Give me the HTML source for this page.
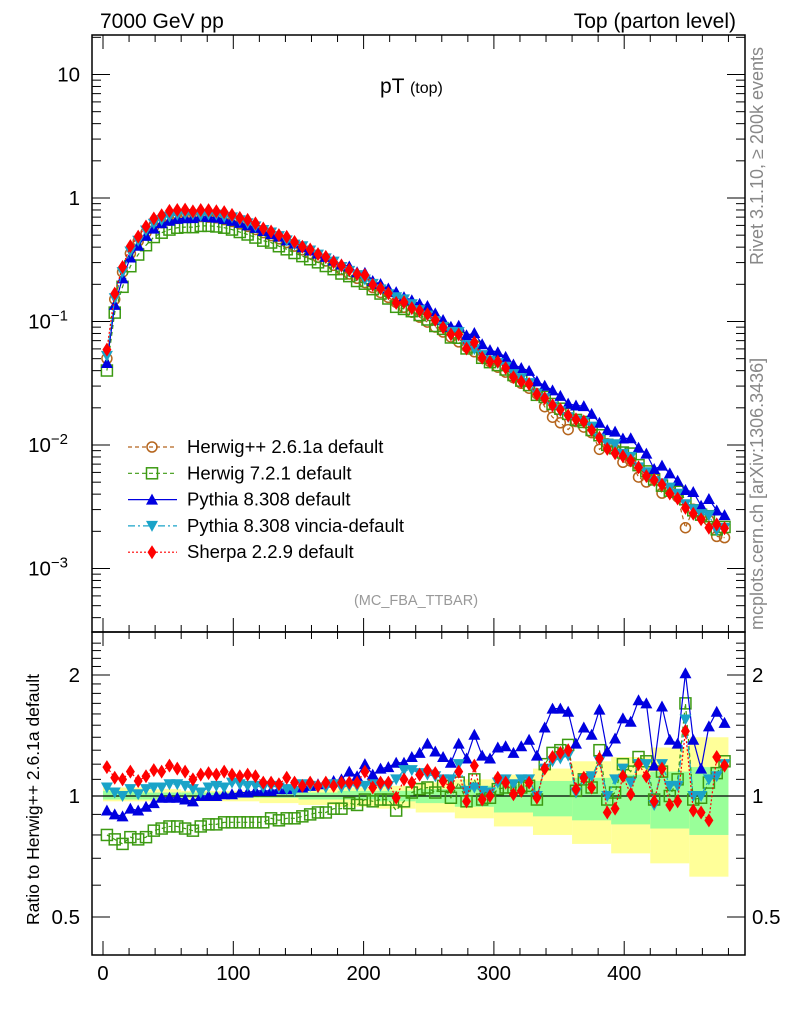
<!DOCTYPE html>
<html><head><meta charset="utf-8"><style>
html,body{margin:0;padding:0;background:#fff;}
svg{display:block;font-family:"Liberation Sans",sans-serif;}
</style></head><body>
<svg id="c" width="786" height="1024" viewBox="0 0 786 1024" xmlns="http://www.w3.org/2000/svg">
<text x="100" y="28" font-size="21">7000 GeV pp</text>
<text x="736" y="28" font-size="21" text-anchor="end">Top (parton level)</text>
<text x="380" y="93" font-size="21">pT <tspan font-size="16">(top)</tspan></text>
<text x="416" y="605" font-size="14.5" fill="#999" text-anchor="middle">(MC_FBA_TTBAR)</text>
<text transform="translate(763,265) rotate(-90)" font-size="18" fill="#888">Rivet 3.1.10, ≥ 200k events</text>
<text transform="translate(763,630) rotate(-90)" font-size="18" fill="#888">mcplots.cern.ch [arXiv:1306.3436]</text>
<text transform="translate(39,925) rotate(-90)" font-size="17.5">Ratio to Herwig++ 2.6.1a default</text>
<g id="bands"></g><g id="marks"></g><g id="axes"></g><g id="legend"></g>
</svg>
<script>
const binWidth = 6;
const nBins = 80;
const herwigLog = [-1.30,-0.82,-0.60,-0.45,-0.35,-0.28,-0.23,-0.20,-0.18,-0.165,-0.155,-0.15,-0.15,-0.155,-0.16,-0.175,-0.19,-0.21,-0.23,-0.255,-0.28,-0.305,-0.33,-0.36,-0.39,-0.42,-0.45,-0.48,-0.51,-0.545,-0.58,-0.615,-0.65,-0.685,-0.725,-0.765,-0.805,-0.845,-0.885,-0.925,-0.965,-1.005,-1.045,-1.085,-1.125,-1.165,-1.205,-1.245,-1.285,-1.325,-1.37,-1.41,-1.455,-1.50,-1.54,-1.585,-1.69,-1.775,-1.82,-1.875,-1.81,-1.855,-1.90,-2.035,-1.99,-2.035,-2.14,-2.13,-2.26,-2.30,-2.27,-2.39,-2.37,-2.42,-2.67,-2.52,-2.56,-2.61,-2.74,-2.75];
const ratioH7 = [0.80,0.78,0.76,0.79,0.78,0.79,0.82,0.83,0.84,0.84,0.83,0.82,0.84,0.85,0.85,0.86,0.86,0.86,0.86,0.86,0.86,0.88,0.87,0.88,0.88,0.89,0.90,0.91,0.91,0.93,0.93,0.96,0.95,0.98,0.97,0.98,0.98,0.92,0.97,1.02,1.04,1.05,1.02,1.06,0.99,1.08,0.97,1.10,0.98,0.99,1.04,1.05,1.05,1.05,1.06,0.98,1.20,1.28,1.30,1.34,1.03,1.10,1.05,1.30,0.98,1.02,1.20,1.15,1.25,1.22,0.98,1.15,1.00,1.10,1.70,0.98,0.99,1.08,1.14,1.22];
const ratioPy = [0.92,0.90,0.89,0.93,0.92,0.94,0.96,0.99,0.99,0.99,0.98,0.97,1.0,1.0,1.0,1.01,1.01,1.02,1.02,1.03,1.03,1.03,1.04,1.04,1.05,1.05,1.06,1.07,1.08,1.09,1.10,1.15,1.12,1.20,1.13,1.17,1.18,1.21,1.21,1.25,1.28,1.35,1.29,1.25,1.21,1.35,1.24,1.42,1.26,1.24,1.32,1.33,1.28,1.33,1.38,1.26,1.48,1.65,1.65,1.62,1.35,1.48,1.42,1.64,1.29,1.39,1.56,1.53,1.73,1.70,1.19,1.67,1.38,1.35,2.02,1.38,1.17,1.49,1.62,1.52];
const ratioVin = [1.05,1.02,1.0,1.04,1.01,1.04,1.05,1.05,1.07,1.07,1.06,1.04,1.02,1.05,1.06,1.05,1.08,1.07,1.06,1.06,1.05,1.06,1.05,1.04,1.03,1.07,1.06,1.05,1.05,1.07,1.05,1.06,1.06,1.06,1.07,1.06,1.06,1.10,1.16,1.16,1.14,1.13,1.12,1.10,1.10,1.20,1.03,1.05,1.03,1.02,1.08,1.10,1.07,1.10,1.10,1.00,1.17,1.22,1.24,1.26,1.02,1.10,1.12,1.22,1.00,1.10,1.17,1.08,1.20,1.20,0.95,1.20,1.06,1.06,1.55,1.00,1.00,1.10,1.12,1.20];
const ratioSh = [1.18,1.11,1.10,1.15,1.09,1.12,1.16,1.15,1.19,1.17,1.15,1.10,1.13,1.14,1.13,1.15,1.13,1.12,1.13,1.12,1.08,1.08,1.07,1.11,1.08,1.06,1.08,1.06,1.08,1.06,1.08,1.08,1.08,1.15,1.05,1.08,1.08,0.99,1.10,1.08,1.13,1.16,1.14,1.09,1.05,1.15,0.97,1.19,0.98,1.00,1.11,1.08,1.01,1.03,1.08,0.99,1.17,1.25,1.28,1.30,1.04,1.11,1.05,1.24,0.91,0.93,1.12,1.01,1.20,1.12,0.97,1.17,0.95,0.97,1.45,0.92,0.91,0.87,1.25,1.19];
const bandGreenHi = [1.03,1.02,1.02,1.02,1.02,1.02,1.03,1.03,1.04,1.06,1.07,1.09,1.11,1.13,1.15,1.18];
const bandGreenLo = [0.98,0.98,0.99,0.99,0.99,0.98,0.98,0.97,0.96,0.94,0.91,0.89,0.87,0.85,0.83,0.80];
const bandYellowHi = [1.05,1.04,1.03,1.03,1.03,1.04,1.05,1.06,1.08,1.10,1.13,1.17,1.22,1.25,1.32,1.40];
const bandYellowLo = [0.97,0.97,0.97,0.97,0.96,0.95,0.94,0.93,0.91,0.88,0.84,0.80,0.76,0.72,0.68,0.63];
const xTicks = [0,100,200,300,400];
const ratioTicks = [2,1,0.5];

const L=92,R=745,T=35,MB=632,RB=955;
const sx=v=>103+1.303*v;
const sy=lv=>198-123.5*lv;
const ry=r=>796-402*Math.log10(r);
const NS='http://www.w3.org/2000/svg';
function mk(tag,attrs,parent){const e=document.createElementNS(NS,tag);for(const k in attrs)e.setAttribute(k,attrs[k]);parent.appendChild(e);return e;}
const gB=document.getElementById('bands'),gM=document.getElementById('marks'),gA=document.getElementById('axes'),gL=document.getElementById('legend');

for(let g=0;g<bandGreenHi.length;g++){
  const x0=sx(g*30),x1=sx(g*30+30);
  const y=mk('rect',{x:x0,y:ry(bandYellowHi[g]),width:x1-x0,height:ry(bandYellowLo[g])-ry(bandYellowHi[g]),fill:'#ffff99'},gB);
  
  
  const gr=mk('rect',{x:x0,y:ry(bandGreenHi[g]),width:x1-x0,height:ry(bandGreenLo[g])-ry(bandGreenHi[g]),fill:'#99ff99'},gB);
  
  
}
mk('line',{x1:L,x2:R,y1:ry(1),y2:ry(1),stroke:'#000','stroke-width':1.2},gB);

const series=[
 {name:'herwig-pp',ratio:null,color:'#b5651d',dash:'4,3',marker:'circle',label:'Herwig++ 2.6.1a default'},
 {name:'herwig7',ratio:ratioH7,color:'#3c9a12',dash:'4,3',marker:'square',label:'Herwig 7.2.1 default'},
 {name:'pythia',ratio:ratioPy,color:'#0000e0',dash:'',marker:'tri',label:'Pythia 8.308 default'},
 {name:'vincia',ratio:ratioVin,color:'#1aa3c8',dash:'7,3,2,3',marker:'itri',label:'Pythia 8.308 vincia-default'},
 {name:'sherpa',ratio:ratioSh,color:'#ff0000',dash:'2,2',marker:'diamond',label:'Sherpa 2.2.9 default'}];

function marker(type,x,y,c,parent){
  let e;
  if(type==='circle') e=mk('circle',{cx:x,cy:y,r:5,fill:'none',stroke:c,'stroke-width':1.5},parent);
  else if(type==='square') e=mk('rect',{x:x-5.5,y:y-5.5,width:11,height:11,fill:'none',stroke:c,'stroke-width':1.5},parent);
  else if(type==='tri') e=mk('polygon',{points:`${x},${y-6} ${x-6},${y+5} ${x+6},${y+5}`,fill:c},parent);
  else if(type==='itri') e=mk('polygon',{points:`${x},${y+6} ${x-6},${y-5} ${x+6},${y-5}`,fill:c},parent);
  else e=mk('polygon',{points:`${x},${y-7} ${x-4.5},${y} ${x},${y+7} ${x+4.5},${y}`,fill:c},parent);
  return e;
}
series.forEach(s=>{
  const g=mk('g',{},gM);
  
  
  const pts=[],rpts=[];
  for(let i=0;i<nBins;i++){
    const x=sx(binWidth*i+binWidth/2);
    const r=s.ratio?s.ratio[i]:1;
    const lv=herwigLog[i]+Math.log10(r);
    pts.push([x,sy(lv)]);rpts.push([x,ry(r)]);
  }
  mk('polyline',{points:pts.map(p=>p.join(',')).join(' '),fill:'none',stroke:s.color,'stroke-width':1.2,'stroke-dasharray':s.dash},g);
  pts.forEach(p=>{const m=marker(s.marker,p[0],p[1],s.color,g);});
  if(s.ratio){
    mk('polyline',{points:rpts.map(p=>p.join(',')).join(' '),fill:'none',stroke:s.color,'stroke-width':1.2,'stroke-dasharray':s.dash},g);
    rpts.forEach(p=>{const m=marker(s.marker,p[0],p[1],s.color,g);});
  }
});

mk('rect',{x:L,y:T,width:R-L,height:MB-T,fill:'none',stroke:'#000','stroke-width':1.5},gA);
mk('rect',{x:L,y:MB,width:R-L,height:RB-MB,fill:'none',stroke:'#000','stroke-width':1.5},gA);
for(let v=0;v<=480;v+=20){
  const x=sx(v),len=v%100===0?14:7;
  [[T,1],[MB,-1],[MB,1],[RB,-1]].forEach(([y,d])=>mk('line',{x1:x,x2:x,y1:y,y2:y+d*len,stroke:'#000'},gA));
}
xTicks.forEach(v=>{const t=mk('text',{x:sx(v),y:980,'font-size':20.5,'text-anchor':'middle'},gA);t.textContent=v;});
for(let d=-4;d<=1;d++){for(let k=1;k<10;k++){const y=sy(d+Math.log10(k));if(y<T||y>MB)continue;const len=k===1?18:9;
  mk('line',{x1:L,x2:L+len,y1:y,y2:y,stroke:'#000'},gA);mk('line',{x1:R,x2:R-len,y1:y,y2:y,stroke:'#000'},gA);}}
const yLabels=[[1,'10'],[0,'1'],[-1,'10','−1'],[-2,'10','−2'],[-3,'10','−3']];
yLabels.forEach(l=>{const t=mk('text',{x:l[2]?68:80,y:sy(l[0])+7,'font-size':20.5,'text-anchor':'end'},gA);t.textContent=l[1];
  if(l[2]){const ts=mk('tspan',{dy:-8,'font-size':15},t);ts.textContent=l[2];}
  });
for(let r=0.4;r<=2.41;r+=0.1){const y=ry(r);if(y<MB||y>RB)continue;const major=Math.abs(r-0.5)<1e-6||Math.abs(r-1)<1e-6||Math.abs(r-2)<1e-6;const len=major?18:9;
  mk('line',{x1:L,x2:L+len,y1:y,y2:y,stroke:'#000'},gA);mk('line',{x1:R,x2:R-len,y1:y,y2:y,stroke:'#000'},gA);}
ratioTicks.forEach(r=>{[[80,'end'],[752,'start']].forEach(([x,a])=>{const t=mk('text',{x:x,y:ry(r)+7,'font-size':20.5,'text-anchor':a},gA);t.textContent=r;});});

series.forEach((s,i)=>{
  const y=447+26.3*i;
  const g=mk('g',{},gL);
  
  
  mk('line',{x1:128,x2:177,y1:y,y2:y,stroke:s.color,'stroke-width':1.2,'stroke-dasharray':s.dash},g);
  marker(s.marker,152,y,s.color,g);
  const t=mk('text',{x:187,y:y+6,'font-size':18.5},g);t.textContent=s.label;
});
</script>
</body></html>
